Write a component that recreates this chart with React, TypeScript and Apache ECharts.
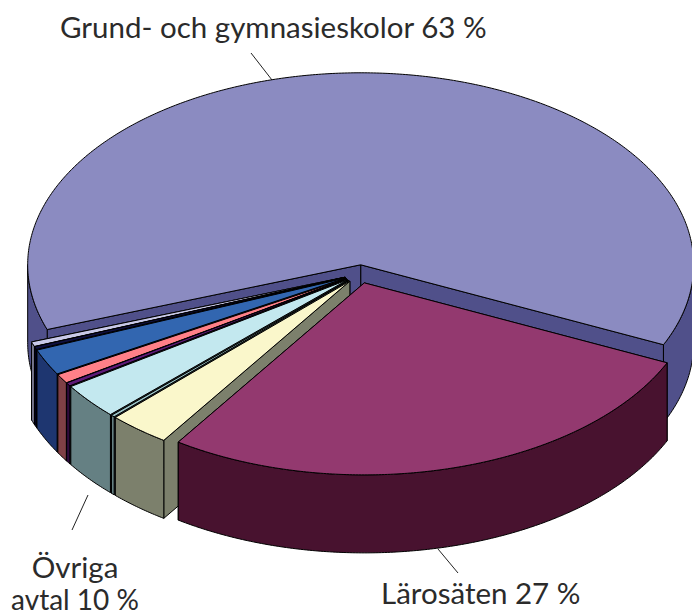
import React, { useEffect, useRef } from "react";
import * as echarts from "echarts";

// Slices in drawing order (back to front), running anticlockwise round the pie
const sliceNames = ["Grund- och gymnasieskolor", "Lavendel", "Svart", "Blå", "Rosa", "Lila", "Ljusblå", "Teal", "Gul", "Lärosäten"];
const sliceValues = [62.3, 0.4, 0.25, 2.2, 0.78, 0.28, 3.0, 0.18, 3.0, 27.6];
const topColors = ["#8B8BC1", "#C9C9E8", "#101040", "#3266B0", "#FF8088", "#5E1A78", "#C3E8EF", "#9CC4C8", "#FAF7CB", "#93396F"];
const wallColors = ["#50508A", "#77778F", "#000020", "#1E3670", "#7F4046", "#2F0A3C", "#658083", "#658083", "#7C806C", "#48122F"];

const W = 692, H = 616;
const CX = 360, CY = 274, RX = 333, RY = 192, DEPTH = 78, EXPLODE = 0.048, START = 114.6;
const TEXT = "#2B2B2B", FONT = "Lato";

const total = sliceValues.reduce((a, b) => a + b, 0);
const rad = (d: number) => (d * Math.PI) / 180;

function arcPoints(ax: number, ay: number, from: number, to: number) {
  const pts: number[][] = [];
  const n = Math.max(2, Math.ceil(Math.abs(to - from) / 0.5));
  for (let i = 0; i <= n; i++) {
    const t = rad(from + ((to - from) * i) / n);
    pts.push([ax + RX * Math.sin(t), ay - RY * Math.cos(t)]);
  }
  return pts;
}

function renderSlice(params: any, api: any) {
  const i = params.dataIndex;
  let before = 0;
  for (let k = 0; k < i; k++) before += sliceValues[k];
  const value = api.value(0);
  const hi = START - (before / total) * 360;
  const lo = hi - (value / total) * 360;
  const mid = rad((hi + lo) / 2);
  const ax = CX + RX * EXPLODE * Math.sin(mid);
  const ay = CY - RY * EXPLODE * Math.cos(mid);
  const down = (p: number[]) => [p[0], p[1] + DEPTH];
  const base = { stroke: "#000", lineWidth: 1, lineJoin: "round" };
  const children: any[] = [];
  const wall = wallColors[i];

  // radial faces: the hidden one first, so that the facing one lies over it
  [hi, lo].forEach((d) => {
    const c = arcPoints(ax, ay, d, d)[0];
    children.push({
      type: "polygon",
      shape: { points: [[ax, ay], c, down(c), [ax, ay + DEPTH]] },
      style: { ...base, fill: wall },
    });
  });
  // outer wall: only the part on the front half of the pie
  for (let k = -2; k <= 0; k++) {
    const a = Math.max(lo, 90 + 360 * k);
    const b = Math.min(hi, 270 + 360 * k);
    if (b > a) {
      const arc = arcPoints(ax, ay, a, b);
      children.push({
        type: "polygon",
        shape: { points: [...arc, ...arc.slice().reverse().map(down)] },
        style: { ...base, fill: wall },
      });
    }
  }
  // top
  children.push({
    type: "polygon",
    shape: { points: [[ax, ay], ...arcPoints(ax, ay, lo, hi)] },
    style: { ...base, fill: topColors[i] },
  });
  return { type: "group", children };
}

const labelText = (text: string, x: number, y: number, align = "left", size = 29.5) => ({
  type: "text",
  x,
  y,
  style: { text, x: 0, y: 0, fill: TEXT, font: `${size}px ${FONT}`, textAlign: align, textVerticalAlign: "middle" },
});
const leader = (x1: number, y1: number, x2: number, y2: number) => ({
  type: "line",
  shape: { x1, y1, x2, y2 },
  style: { stroke: "#222", lineWidth: 1 },
});

export default function App() {
  const ref = useRef<HTMLDivElement>(null);
  useEffect(() => {
    document.body.style.margin = "0";
    const chart = echarts.init(ref.current!, undefined, { renderer: "svg" });
    chart.setOption({
      animation: false,
      backgroundColor: "#fff",
      series: [
        {
          type: "custom",
          coordinateSystem: "none",
          silent: true,
          clip: false,
          renderItem: renderSlice,
          data: sliceValues.map((v, i) => ({ name: sliceNames[i], value: [v] })),
        },
      ],
      graphic: [
        leader(251, 53, 272, 80),
        leader(438, 549, 458, 573),
        leader(88, 495, 72, 530),
        labelText("Grund- och gymnasieskolor 63 %", 60, 26.5),
        labelText("Lärosäten 27 %", 381, 592.5),
        labelText("Övriga", 75, 566.5, "center"),
        labelText("avtal 10 %", 75, 598.5, "center", 28),
      ],
    });
    return () => chart.dispose();
  }, []);
  return <div ref={ref} style={{ width: W, height: H }} />;
}
